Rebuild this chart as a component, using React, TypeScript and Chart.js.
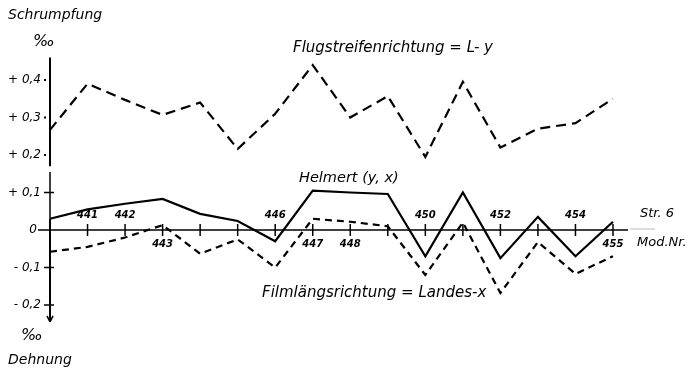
import React, { useEffect, useRef } from 'react';
import { Chart, registerables } from 'chart.js';

Chart.register(...registerables);

const modules = ['440', '441', '442', '443', '444', '445', '446', '447', '448', '449', '450', '451', '452', '453', '454', '455'];
const flugstreifen = [0.267, 0.39, 0.347, 0.307, 0.34, 0.216, 0.31, 0.44, 0.3, 0.357, 0.195, 0.395, 0.22, 0.27, 0.285, 0.35];
const helmert = [0.03, 0.055, 0.07, 0.083, 0.043, 0.024, -0.03, 0.105, 0.1, 0.096, -0.07, 0.1, -0.075, 0.035, -0.07, 0.022];
const filmlaengs = [-0.058, -0.045, -0.02, 0.013, -0.063, -0.025, -0.1, 0.03, 0.022, 0.01, -0.12, 0.02, -0.168, -0.032, -0.117, -0.07];

const yTickValues = [0.4, 0.3, 0.2, 0.1, 0, -0.1, -0.2];
const yTickLabels = ['+ 0,4', '+ 0,3', '+ 0,2', '+ 0,1', '0', '- 0,1', '- 0,2'];
const labeledAbove = ['441', '442', '446', '450', '452', '454'];
const labeledBelow = ['443', '447', '448', '455'];

const FONT = '"DejaVu Sans", sans-serif';

const handAxes = {
  id: 'handAxes',
  beforeDatasetsDraw(chart: any) {
    const ctx = chart.ctx;
    const xs = chart.scales.x;
    const ys = chart.scales.y;
    const x0 = xs.getPixelForValue(0);
    const y0 = ys.getPixelForValue(0);
    const line = (a: number, b: number, c: number, d: number) => {
      ctx.beginPath();
      ctx.moveTo(a, b);
      ctx.lineTo(c, d);
      ctx.stroke();
    };
    ctx.save();
    ctx.strokeStyle = '#000';
    ctx.setLineDash([]);
    // y axis (with small break)
    ctx.lineWidth = 2;
    line(x0, ys.getPixelForValue(0.46), x0, ys.getPixelForValue(0.17));
    ctx.lineWidth = 1.5;
    line(x0, ys.getPixelForValue(0.155), x0, ys.getPixelForValue(0.03));
    ctx.lineWidth = 2;
    line(x0, ys.getPixelForValue(0.03), x0, ys.getPixelForValue(-0.245));
    // arrowhead
    const ya = ys.getPixelForValue(-0.245);
    ctx.lineWidth = 1.5;
    line(x0 - 3, ya - 6, x0, ya);
    line(x0 + 3, ya - 6, x0, ya);
    // x axis
    const xEnd = xs.getPixelForValue(modules.length - 1);
    ctx.lineWidth = 1.5;
    line(x0 - 12, y0, xEnd + 15, y0);
    ctx.strokeStyle = '#bbb';
    ctx.lineWidth = 1;
    line(xEnd + 17, y0 - 1, xEnd + 42, y0 - 1);
    ctx.strokeStyle = '#000';
    ctx.lineWidth = 1.5;
    for (let i = 1; i < modules.length; i++) {
      const px = xs.getPixelForValue(i);
      line(px, y0 - 6, px, y0 + 6);
    }
    // y ticks
    yTickValues.forEach((v) => {
      const py = ys.getPixelForValue(v);
      if (v >= 0.2) {
        ctx.fillStyle = '#000';
        ctx.fillRect(x0 - 6, py - 1, 2, 2);
      } else if (v !== 0) {
        line(x0 - 6, py, x0 + 4, py);
      }
    });
    ctx.restore();
  },
  afterDraw(chart: any) {
    const ctx = chart.ctx;
    const xs = chart.scales.x;
    const ys = chart.scales.y;
    const x0 = xs.getPixelForValue(0);
    const y0 = ys.getPixelForValue(0);
    ctx.save();
    ctx.fillStyle = '#000';
    ctx.textBaseline = 'middle';
    // y tick labels
    ctx.font = `italic 12px ${FONT}`;
    ctx.textAlign = 'right';
    yTickValues.forEach((v, i) => {
      const py = ys.getPixelForValue(v);
      ctx.fillText(yTickLabels[i], v === 0 ? x0 - 13 : x0 - 9, py);
    });
    // x tick labels
    ctx.font = `italic bold 10px ${FONT}`;
    ctx.textAlign = 'center';
    modules.forEach((m, i) => {
      const px = xs.getPixelForValue(i);
      if (labeledAbove.includes(m)) ctx.fillText(m, px, y0 - 15);
      if (labeledBelow.includes(m)) ctx.fillText(m, px, y0 + 14);
    });
    // axis titles
    ctx.textAlign = 'left';
    ctx.font = `italic 14px ${FONT}`;
    ctx.fillText('Schrumpfung', 8, 15);
    ctx.fillText('Dehnung', 8, 360);
    ctx.font = `italic 16px ${FONT}`;
    ctx.fillText('‰', 33, 42);
    ctx.fillText('‰', 21, 336);
    ctx.font = `italic 13px ${FONT}`;
    ctx.fillText('Str. 6', 640, 214);
    ctx.fillText('Mod.Nr.', 637, 243);
    // series labels
    ctx.font = `italic 15px ${FONT}`;
    ctx.fillText('Flugstreifenrichtung = L- y', 293, 48);
    ctx.fillText('Filmlängsrichtung = Landes-x', 262, 293);
    ctx.font = `italic 14.5px ${FONT}`;
    ctx.fillText('Helmert (y, x)', 299, 178);
    ctx.restore();
  },
};

export default function App() {
  const ref = useRef<HTMLCanvasElement>(null);
  useEffect(() => {
    if (!ref.current) return;
    const chart = new Chart(ref.current, {
      type: 'line',
      data: {
        labels: modules,
        datasets: [
          {
            label: 'Flugstreifenrichtung = L- y',
            data: flugstreifen,
            borderColor: '#000',
            borderWidth: 2.2,
            borderDash: [10, 6],
            pointRadius: 0,
            tension: 0,
            fill: false,
          },
          {
            label: 'Helmert (y, x)',
            data: helmert,
            borderColor: '#000',
            borderWidth: 2.2,
            pointRadius: 0,
            tension: 0,
            fill: false,
          },
          {
            label: 'Filmlängsrichtung = Landes-x',
            data: filmlaengs,
            borderColor: '#000',
            borderWidth: 2.2,
            borderDash: [7, 5],
            pointRadius: 0,
            tension: 0,
            fill: false,
          },
        ],
      },
      options: {
        animation: false,
        responsive: false,
        devicePixelRatio: 1,
        layout: { padding: { left: 50, right: 77, top: 42.5, bottom: 52.25 } },
        plugins: { legend: { display: false }, tooltip: { enabled: false } },
        scales: {
          x: { type: 'category', display: false, offset: false },
          y: { type: 'linear', display: false, min: -0.25, max: 0.5 },
        },
        datasets: { line: { clip: false as any } },
      } as any,
      plugins: [handAxes],
    });
    return () => chart.destroy();
  }, []);
  return (
    <div style={{ position: 'absolute', left: 0, top: 0, width: 690, height: 376, background: '#fff' }}>
      <canvas ref={ref} width={690} height={376} />
    </div>
  );
}
